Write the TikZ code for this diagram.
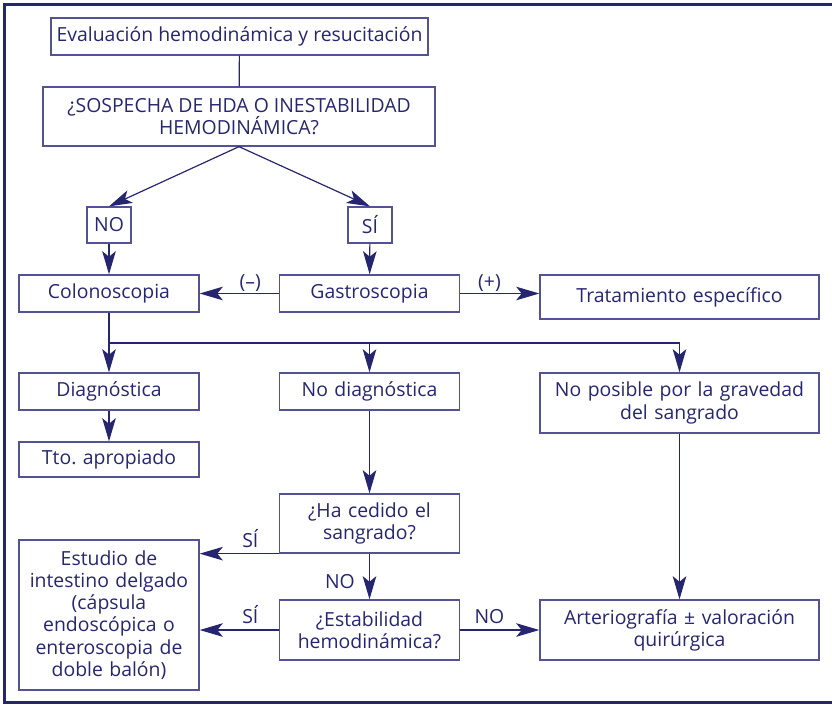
\documentclass[tikz,border=0pt]{standalone}
\usepackage{fontspec}
\setmainfont{Open Sans}
\usetikzlibrary{arrows.meta,positioning,calc}
\definecolor{navy}{RGB}{38,38,112}
\definecolor{boxline}{RGB}{82,82,148}
\tikzset{
  box/.style={draw=boxline, line width=0.9pt, text=navy, align=center, inner sep=2pt,
    font=\fontsize{13.8}{15.8}\selectfont},
  narrow/.style={box, minimum width=4.5cm, text width=4.3cm},
  wide/.style={box, minimum width=6.975cm, text width=6.7cm},
  tiny/.style={box, minimum width=1.1cm, minimum height=0.9cm},
  arr/.style={-{Stealth[length=5.8mm, width=3.4mm, inset=1.4mm]}, navy, line width=0.85pt},
  lin/.style={navy, line width=0.85pt},
  lbl/.style={text=navy, font=\fontsize{13.8}{15.8}\selectfont, inner sep=1pt},
  frame/.style={navy, line width=1.8pt},
}

\begin{document}
\begin{tikzpicture}[x=0.025cm, y=-0.025cm]
\useasboundingbox (0,0) rectangle (832,705);
% outer frame, open on the right
\draw[frame] (832,4.5) -- (4.5,4.5) -- (4.5,702.5) -- (832,702.5);

% boxes
\node[box, minimum width=9.425cm, minimum height=0.925cm] (eval) at (239.5,36.5) {Evaluación hemodinámica y resucitación};
\node[box, minimum width=9.8cm, minimum height=1.475cm] (sosp) at (239,116.5) {¿SOSPECHA DE HDA O INESTABILIDAD\\HEMODINÁMICA?};
\node[tiny] (no) at (109,225) {NO};
\node[tiny] (si) at (370,225) {SÍ};
\node[narrow, minimum height=0.925cm] (colon) at (109,293.5) {Colonoscopia};
\node[narrow, minimum height=0.925cm] (gastro) at (369.5,293.5) {Gastroscopia};
\node[wide, minimum height=1.1cm] (trat) at (679.5,297) {Tratamiento específico};
\node[narrow, minimum height=0.925cm] (diag) at (109,391.5) {Diagnóstica};
\node[narrow, minimum height=0.925cm] (nodiag) at (369.5,391.5) {No diagnóstica};
\node[wide, minimum height=1.5cm] (noposible) at (679.5,403) {No posible por la gravedad\\del sangrado};
\node[narrow, minimum height=0.875cm] (tto) at (109,459.5) {Tto.\ apropiado};
\node[narrow, minimum height=1.475cm] (cedido) at (369.5,523.5) {¿Ha cedido el\\sangrado?};
\node[narrow, minimum height=3.75cm] (estudio) at (109,615) {Estudio de\\intestino delgado\\(cápsula\\endoscópica o\\enteroscopia de\\doble balón)};
\node[narrow, minimum height=1.5cm] (estab) at (369.5,630) {¿Estabilidad\\hemodinámica?};
\node[wide, minimum height=1.5cm] (arterio) at (679.5,630) {Arteriografía ± valoración\\quirúrgica};

% connectors
\draw[lin] (eval) -- (sosp);
\draw[arr] (sosp.south) -- (no.north);
\draw[arr] (sosp.south) -- (si.north);
\draw[arr] (no) -- (colon);
\draw[arr] (si) -- (gastro);
\draw[arr] (gastro) -- node[lbl, above, pos=0.36] {(–)} (colon);
\draw[arr] (gastro) -- node[lbl, above, pos=0.37] {(+)} (trat.west |- gastro);
\coordinate (bus) at (109,343);
\draw[lin] (colon) -- (bus);
\draw[arr] (bus) -- (diag);
\draw[arr] (bus) -| (noposible.north);
\draw[arr] (bus -| nodiag) -- (nodiag);
\draw[arr] (diag) -- (tto);
\draw[arr] (nodiag) -- (cedido);
\draw[arr] (cedido.south west) -- node[lbl, above=3pt, pos=0.36] {SÍ} (estudio.east |- cedido.south west);
\draw[arr] (cedido) -- node[lbl, left=9pt, pos=0.62] {NO} (estab);
\draw[arr] (estab) -- node[lbl, above=3pt, pos=0.36] {SÍ} (estudio.east |- estab);
\draw[arr] (estab) -- node[lbl, above=3pt, pos=0.37] {NO} (arterio);
\draw[arr] (noposible) -- (arterio);
\end{tikzpicture}
\end{document}
